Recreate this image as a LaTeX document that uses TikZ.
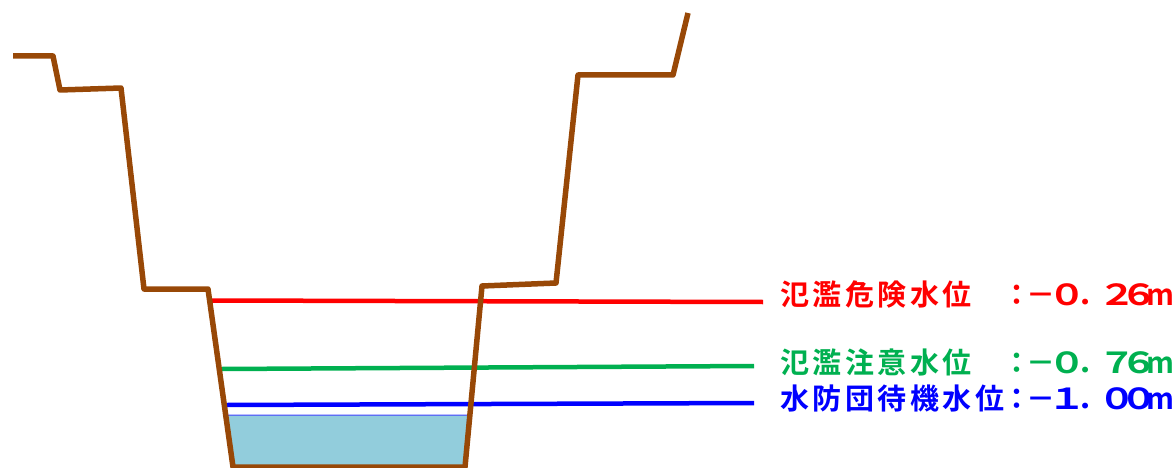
\documentclass[tikz,border=0pt]{standalone}
\usepackage{fontspec}
\usepackage{graphicx}
\newfontfamily\jpfont{Noto Sans CJK JP}[BoldFont=* Bold]
\definecolor{bankbrown}{HTML}{984807}
\definecolor{lvred}{HTML}{FF0000}
\definecolor{lvgreen}{HTML}{00B050}
\definecolor{lvblue}{HTML}{0000FF}
\definecolor{waterfill}{HTML}{92CDDC}
\newcommand\jc[1]{\makebox[32.5pt]{#1}}
\newcommand\vc[2]{\makebox[#1pt]{#2}}
\newcommand\dg[1]{\scalebox{1.3}[1]{#1}}
\newcommand\valtext[3]{\vc{21}{：}\vc{27}{－}\vc{25.5}{\dg{#1}}\vc{25.5}{．}\vc{24}{\dg{#2}}\vc{20.5}{\dg{#3}}\vc{21.5}{m}}
\begin{document}
\begin{tikzpicture}[x=1pt,y=-1pt,
  bank/.style={draw=bankbrown,line width=5.5pt,line join=round},
  level/.style={line width=4.5pt},
  water/.style={fill=waterfill,draw=lvblue!75,line width=1pt},
  lbl/.style={anchor=west,inner sep=0pt,font=\jpfont\bfseries\fontsize{29pt}{32pt}\selectfont}]
\useasboundingbox (0,0) rectangle (1175,468);
% water
\path[water] (226.5,415) -- (467.7,415) -- (465,467) -- (233,467) -- cycle;
% level lines
\coordinate (r1) at (212,300.5);
\coordinate (r2) at (763,302);
\coordinate (g1) at (222,369);
\coordinate (g2) at (754,366);
\coordinate (b1) at (227,405);
\coordinate (b2) at (754,403);
\draw[level,draw=lvred] (r1) -- (r2);
\draw[level,draw=lvgreen] (g1) -- (g2);
\draw[level,draw=lvblue] (b1) -- (b2);
% bank profile
\coordinate (p1) at (13,56);
\coordinate (p2) at (53,56);
\coordinate (p3) at (60,90);
\coordinate (p4) at (121,88);
\coordinate (p5) at (144,289);
\coordinate (p6) at (208,289);
\coordinate (p7) at (233,467);
\coordinate (p8) at (465,467);
\coordinate (p9) at (482,286);
\coordinate (p10) at (556,283);
\coordinate (p11) at (578,75);
\coordinate (p12) at (673,75);
\coordinate (p13) at (688,13);
\draw[bank] (p1) -- (p2) -- (p3) -- (p4) -- (p5) -- (p6) -- (p7) -- (p8) -- (p9) -- (p10) -- (p11) -- (p12) -- (p13);
% labels
\node[lbl,text=lvred] (tred) at (778.5,294.5) {\makebox[227.5pt][l]{\jc{氾}\jc{濫}\jc{危}\jc{険}\jc{水}\jc{位}}\valtext{０}{２}{６}};
\node[lbl,text=lvgreen] (tgreen) at (778.5,362.5) {\makebox[227.5pt][l]{\jc{氾}\jc{濫}\jc{注}\jc{意}\jc{水}\jc{位}}\valtext{０}{７}{６}};
\node[lbl,text=lvblue] (tblue) at (778.5,398.5) {\makebox[227.5pt][l]{\jc{水}\jc{防}\jc{団}\jc{待}\jc{機}\jc{水}\jc{位}}\valtext{１}{０}{０}};
\end{tikzpicture}
\end{document}
